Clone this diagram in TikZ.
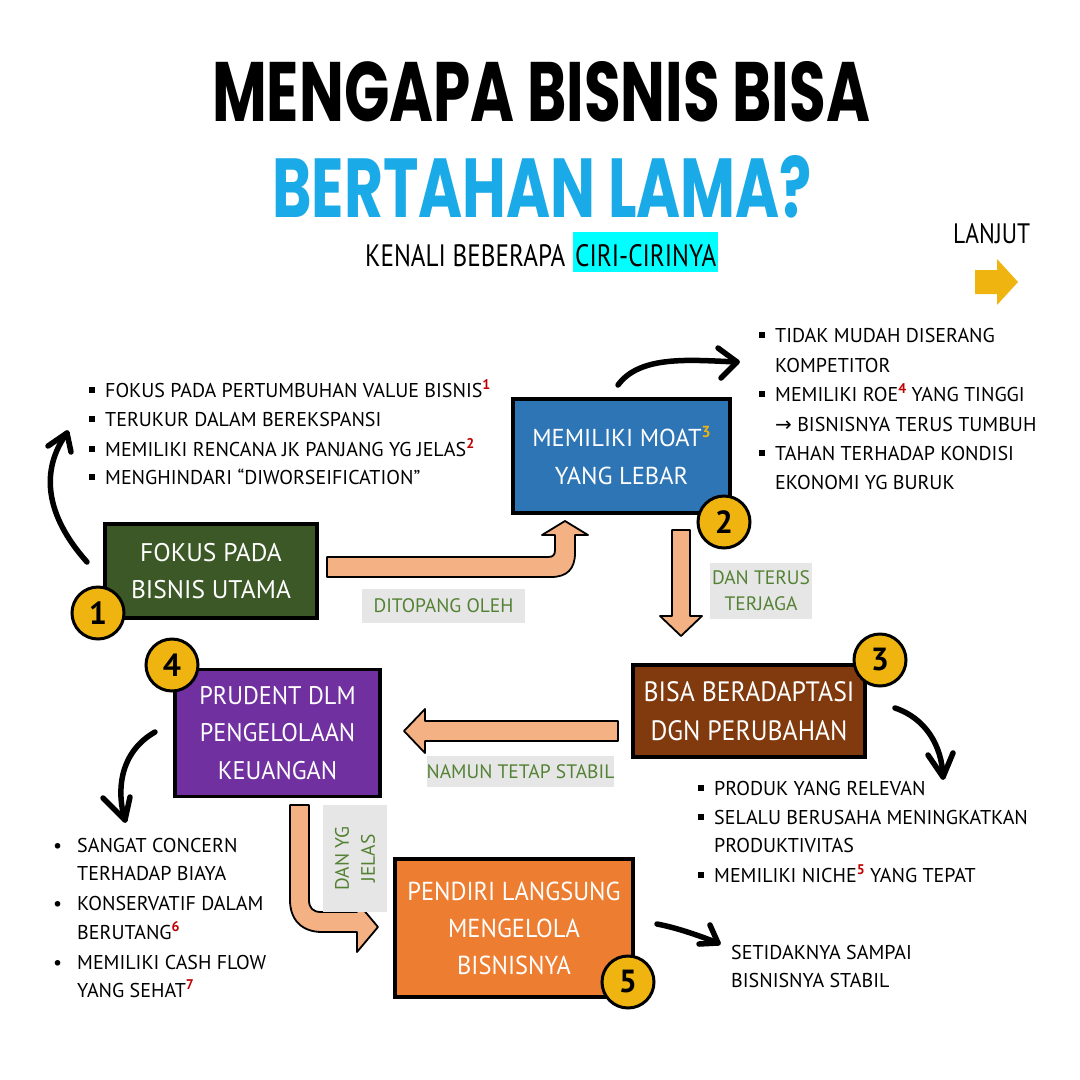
\documentclass[tikz,border=0pt]{standalone}
\usepackage{fontspec}
\usepackage{graphicx}
\setmainfont{PT Sans}
\newfontfamily\titlefont{Poppins}
\newfontfamily\symfont{DejaVu Sans}
\definecolor{bgreen}{RGB}{60,88,38}
\definecolor{bblue}{RGB}{46,117,182}
\definecolor{bbrown}{RGB}{128,58,14}
\definecolor{bpurple}{RGB}{112,48,160}
\definecolor{borange}{RGB}{237,125,49}
\definecolor{peach}{RGB}{244,177,131}
\definecolor{lgray}{RGB}{231,230,230}
\definecolor{lgreen}{RGB}{84,130,53}
\definecolor{gold}{RGB}{239,180,16}
\definecolor{tblue}{RGB}{27,170,232}
\definecolor{hcyan}{RGB}{0,255,255}
\definecolor{supred}{RGB}{192,0,0}
\newcommand{\sqb}{\makebox[16pt][l]{\raisebox{4pt}{\rule{6pt}{6pt}}}}
\newcommand{\rdb}{\makebox[25pt][l]{\hspace{1pt}•}}
\newcommand{\ind}[1]{\hspace*{#1}}
\newcommand{\rsup}[1]{\raisebox{8pt}{\fontsize{14}{14}\selectfont\bfseries\color{supred}#1}}
\newcommand{\hs}[2]{\scalebox{#1}[1]{#2}}
\begin{document}
\begin{tikzpicture}[x=1pt,y=-1pt,
  box/.style={draw=black, line width=3.5pt, text=white, align=center, inner sep=0pt},
  badge/.style={circle, draw=black, line width=3pt, fill=gold, minimum size=52pt, inner sep=0pt, font=\fontsize{32}{32}\selectfont\bfseries},
  glabel/.style={fill=lgray, text=lgreen, align=center, inner sep=0pt, font=\fontsize{19.5}{26}\selectfont},
  lst/.style={anchor=base west, inner sep=0pt, font=\fontsize{20}{24}\selectfont},
  blk/.style={line width=5.5pt, line cap=round, line join=round},
  fat/.style={fill=peach, draw=black, line width=1.8pt, line join=round}]
\useasboundingbox (0,0) rectangle (1080,1080);
\fill[white] (0,0) rectangle (1080,1080);

% Title
\node[anchor=base west, inner sep=0pt] (t1) at (212,121) {\resizebox{658pt}{60pt}{\titlefont\bfseries MENGAPA BISNIS BISA}};
\node[anchor=base west, inner sep=0pt] (t2) at (272,217) {\resizebox{540pt}{62pt}{\color{tblue}\titlefont\bfseries BERTAHAN LAMA?}};
\fill[hcyan] (573,232) rectangle (718,272);
\node[anchor=base west, inner sep=0pt] (s1) at (365,266) {\resizebox{200pt}{22pt}{KENALI BEBERAPA}};
\node[anchor=base west, inner sep=0pt] (s2) at (575,266) {\resizebox{141pt}{22pt}{CIRI-CIRINYA}};
\node[anchor=base west, inner sep=0pt] (lj) at (953,243) {\resizebox{77pt}{20pt}{LANJUT}};
\fill[gold] (975,270) -- (997,270) -- (997,259) -- (1018,282) -- (997,305) -- (997,294) -- (975,294) -- cycle;

% Boxes
\node[box, fill=bgreen, minimum width=212pt, minimum height=94pt, font=\fontsize{25.5}{37}\selectfont] (b1) at (211,571) {FOKUS PADA\\BISNIS UTAMA};
\node[box, fill=bblue, minimum width=217pt, minimum height=114pt, font=\fontsize{24.5}{38}\selectfont] (b2) at (621.5,456) {MEMILIKI MOAT\raisebox{9pt}{\fontsize{16}{16}\selectfont\bfseries\color{gold}3}\\YANG LEBAR};
\node[box, fill=bbrown, minimum width=232pt, minimum height=92pt, font=\fontsize{28}{39}\selectfont] (b3) at (749,711) {\hs{0.92}{BISA BERADAPTASI}\\\hs{0.92}{DGN PERUBAHAN}};
\node[box, fill=bpurple, minimum width=205pt, minimum height=127pt, font=\fontsize{25.5}{37.5}\selectfont] (b4) at (277.5,733) {\hs{0.95}{PRUDENT DLM}\\\hs{0.95}{PENGELOLAAN}\\\hs{0.95}{KEUANGAN}};
\node[box, fill=borange, minimum width=238pt, minimum height=138pt, font=\fontsize{26}{37}\selectfont] (b5) at (514,928) {\hs{0.94}{PENDIRI LANGSUNG}\\\hs{0.94}{MENGELOLA}\\\hs{0.94}{BISNISNYA}};

% Badges
\node[badge] (n1) at (98,613) {1};
\node[badge] (n2) at (724,522) {2};
\node[badge] (n3) at (880,660) {3};
\node[badge] (n4) at (172,665) {4};
\node[badge] (n5) at (628,982) {5};

% Fat arrows
\draw[fat] (327,557) -- (548,557) .. controls (553,557) and (555,555) .. (555,550) -- (555,535) -- (542,535) -- (565,521) -- (588,535) -- (575,535) -- (575,553) .. controls (575,569) and (567,577) .. (551,577) -- (327,577) -- cycle;
\draw[fat] (672,530) -- (690,530) -- (690,616) -- (702,616) -- (681,636) -- (660,616) -- (672,616) -- cycle;
\draw[fat] (618,721) -- (425,721) -- (425,709) -- (404,731) -- (425,753) -- (425,741) -- (618,741) -- cycle;
\draw[fat] (290,805) -- (309,805) -- (309,900) .. controls (309,908) and (313,912) .. (321,912) -- (357,912) -- (357,902) -- (378,927) -- (357,952) -- (357,932) -- (322,932) .. controls (302,932) and (290,920) .. (290,900) -- cycle;

% Gray labels
\node[glabel, minimum width=163pt, minimum height=34pt] (l1) at (443.5,606) {DITOPANG OLEH};
\node[glabel, minimum width=102pt, minimum height=56pt] (l2) at (761,591) {DAN TERUS\\TERJAGA};
\node[glabel, minimum width=187pt, minimum height=31pt] (l3) at (520.5,771.5) {NAMUN TETAP STABIL};
\node[glabel, rotate=90, minimum width=107pt, minimum height=64pt] (l4) at (355,858.5) {DAN YG\\JELAS};

% Black curved arrows
\coordinate (a1s) at (87,562); \coordinate (a1e) at (67,433);
\draw[blk] (a1s) .. controls (45,515) and (40,470) .. (a1e);
\draw[blk] (48,446) -- (a1e) -- (71,452);
\coordinate (a2s) at (618,385); \coordinate (a2e) at (737,362);
\draw[blk] (a2s) .. controls (640,355) and (690,360) .. (a2e);
\draw[blk] (718,348) -- (a2e) -- (721,378);
\coordinate (a3s) at (895,708); \coordinate (a3e) at (943,777);
\draw[blk] (a3s) .. controls (925,718) and (942,745) .. (a3e);
\draw[blk] (928,755) -- (a3e) -- (953,753);
\coordinate (a4s) at (155,732); \coordinate (a4e) at (125,820);
\draw[blk] (a4s) .. controls (120,752) and (116,790) .. (a4e);
\draw[blk] (103,798) -- (a4e) -- (130,797);
\coordinate (a5s) at (657,924); \coordinate (a5e) at (718,943);
\draw[blk] (a5s) .. controls (678,928) and (700,936) .. (a5e);
\draw[blk] (699,944) -- (a5e) -- (710,925);

% List 1
\node[lst] (p11) at (89,397) {\sqb FOKUS PADA PERTUMBUHAN VALUE BISNIS\rsup{1}};
\node[lst] (p12) at (89,426) {\sqb TERUKUR DALAM BEREKSPANSI};
\node[lst] (p13) at (89,456) {\sqb MEMILIKI RENCANA JK PANJANG YG JELAS\rsup{2}};
\node[lst] (p14) at (89,484) {\sqb MENGHINDARI “DIWORSEIFICATION”};

% List 2
\node[lst] (p21) at (759,342) {\sqb TIDAK MUDAH DISERANG};
\node[lst] (p22) at (759,372) {\ind{16pt}KOMPETITOR};
\node[lst] (p23) at (759,401) {\sqb MEMILIKI ROE\rsup{4} YANG TINGGI};
\node[lst] (p24) at (759,431) {\ind{16pt}{\symfont →} BISNISNYA TERUS TUMBUH};
\node[lst] (p25) at (759,460) {\sqb TAHAN TERHADAP KONDISI};
\node[lst] (p26) at (759,489) {\ind{16pt}EKONOMI YG BURUK};

% List 3
\node[lst] (p31) at (698,795) {\sqb PRODUK YANG RELEVAN};
\node[lst] (p32) at (698,824) {\sqb SELALU BERUSAHA MENINGKATKAN};
\node[lst] (p33) at (698,852) {\ind{16pt}PRODUKTIVITAS};
\node[lst] (p34) at (698,882) {\sqb MEMILIKI NICHE\rsup{5} YANG TEPAT};

% List 4
\node[lst] (p41) at (52,852) {\rdb SANGAT CONCERN};
\node[lst] (p42) at (52,880) {\ind{25pt}TERHADAP BIAYA};
\node[lst] (p43) at (52,910) {\rdb KONSERVATIF DALAM};
\node[lst] (p44) at (52,939) {\ind{25pt}BERUTANG\rsup{6}};
\node[lst] (p45) at (52,969) {\rdb MEMILIKI CASH FLOW};
\node[lst] (p46) at (52,997) {\ind{25pt}YANG SEHAT\rsup{7}};

% Note
\node[lst] (q1) at (731,959) {SETIDAKNYA SAMPAI};
\node[lst] (q2) at (731,987) {BISNISNYA STABIL};
\end{tikzpicture}
\end{document}
